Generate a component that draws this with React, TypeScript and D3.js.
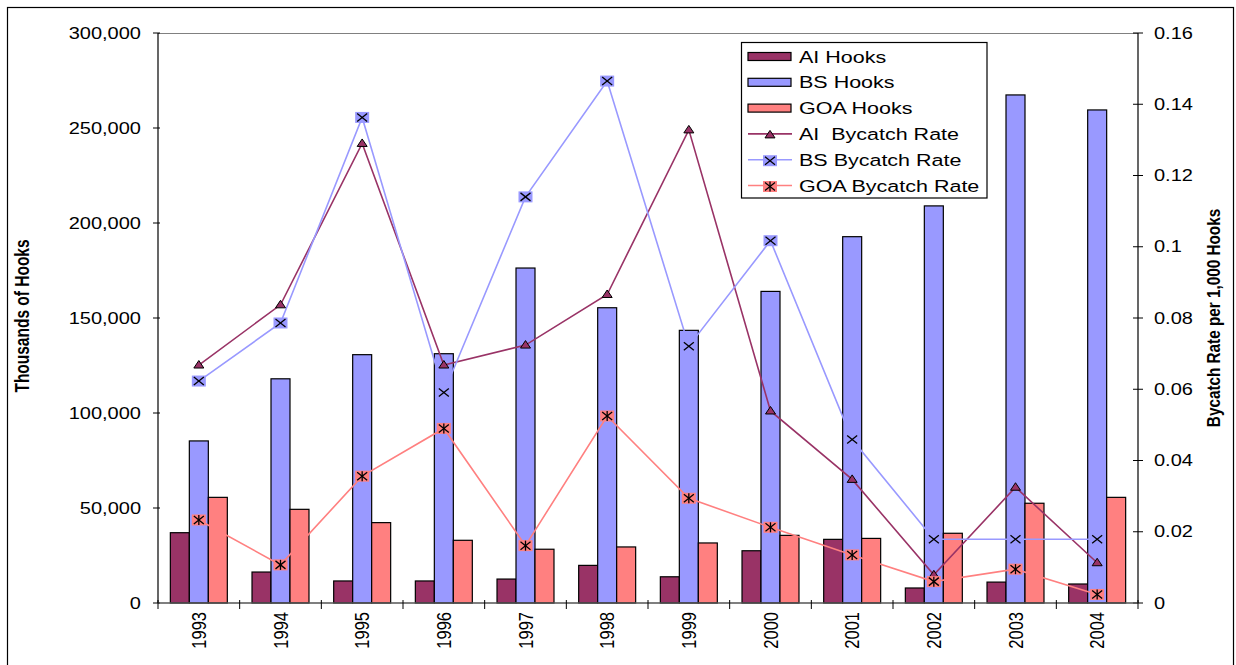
import React from 'react';
import * as d3 from 'd3';

const years = ['1993', '1994', '1995', '1996', '1997', '1998', '1999', '2000', '2001', '2002', '2003', '2004'];
const aiHooks = [37000, 16300, 11600, 11600, 12600, 19800, 13800, 27500, 33500, 7900, 11000, 10000];
const bsHooks = [85300, 118000, 130700, 131200, 176300, 155400, 143500, 164000, 192800, 209000, 267400, 259500];
const goaHooks = [55600, 49300, 42300, 33000, 28300, 29500, 31600, 35600, 34000, 36700, 52500, 55600];
const aiRate = [0.0668, 0.0837, 0.129, 0.0668, 0.0724, 0.0866, 0.1328, 0.0539, 0.0347, 0.0079, 0.0325, 0.0113];
const bsRate = [0.0623, 0.0786, 0.1363, 0.0591, 0.114, 0.1465, 0.0721, 0.1017, 0.0459, 0.0179, 0.0179, 0.0179];
const goaRate = [0.0233, 0.0107, 0.0356, 0.049, 0.0161, 0.0525, 0.0294, 0.02125, 0.0135, 0.006, 0.0095, 0.0024];
const leftTicks = [0, 50000, 100000, 150000, 200000, 250000, 300000];
const rightTicks = [0, 0.02, 0.04, 0.06, 0.08, 0.1, 0.12, 0.14, 0.16];

const AI_C = '#993366';
const BS_C = '#9999FF';
const GOA_C = '#FF8080';
const FONT = '"Liberation Sans", Arial, sans-serif';
const SX = 1.25;

const W = 1236, H = 665;
const L = 158, R = 1138, T = 33, B = 603;

type MarkerKind = 'tri' | 'x' | 'star';

function Marker({ kind, x, y }: { kind: MarkerKind; x: number; y: number }) {
  if (kind === 'tri') {
    return <path d={`M${x},${y - 4.5}L${x + 5},${y + 3}L${x - 5},${y + 3}Z`} fill={AI_C} stroke="#000" strokeWidth={1} />;
  }
  const bg = kind === 'x' ? BS_C : GOA_C;
  return (
    <g>
      <rect x={x - 7} y={y - 5.5} width={14} height={11} fill={bg} />
      <line x1={x - 5} y1={y - 4} x2={x + 5} y2={y + 4} stroke="#000" strokeWidth={1.3} />
      <line x1={x - 5} y1={y + 4} x2={x + 5} y2={y - 4} stroke="#000" strokeWidth={1.3} />
      {kind === 'star' && <line x1={x} y1={y - 5} x2={x} y2={y + 5} stroke="#000" strokeWidth={1.3} />}
    </g>
  );
}

function SText({ x, y, children, anchor = 'start', size = 16, rotate = 0, weight = 'normal', dy = '0' }: any) {
  return (
    <text
      transform={`translate(${x},${y}) scale(${SX},1)${rotate ? ` rotate(${rotate})` : ''}`}
      textAnchor={anchor}
      fontSize={size}
      fontFamily={FONT}
      fontWeight={weight}
      dy={dy}
      fill="#000"
      style={{ whiteSpace: 'pre' }}
    >
      {children}
    </text>
  );
}

export default function App() {
  const x = d3.scaleBand<string>().domain(years).range([L, R]).padding(0);
  const yL = d3.scaleLinear().domain([0, 300000]).range([B, T]);
  const yR = d3.scaleLinear().domain([0, 0.16]).range([B, T]);
  const step = x.bandwidth();
  const bw = step / 4.3;
  const cx = (yr: string) => (x(yr) as number) + step / 2;

  const barSeries = [
    { vals: aiHooks, color: AI_C, k: -1 },
    { vals: bsHooks, color: BS_C, k: 0 },
    { vals: goaHooks, color: GOA_C, k: 1 },
  ];
  const lineSeries: { vals: number[]; color: string; kind: MarkerKind }[] = [
    { vals: aiRate, color: AI_C, kind: 'tri' },
    { vals: bsRate, color: BS_C, kind: 'x' },
    { vals: goaRate, color: GOA_C, kind: 'star' },
  ];
  const line = d3.line<number>().x((_, i) => cx(years[i])).y((d) => yR(d));

  const fmtL = d3.format(',');
  const fmtR = (v: number) => String(+v.toFixed(2));

  const legendItems = [
    { label: 'AI Hooks', color: AI_C, type: 'bar' },
    { label: 'BS Hooks', color: BS_C, type: 'bar' },
    { label: 'GOA Hooks', color: GOA_C, type: 'bar' },
    { label: 'AI  Bycatch Rate', color: AI_C, type: 'tri' },
    { label: 'BS Bycatch Rate', color: BS_C, type: 'x' },
    { label: 'GOA Bycatch Rate', color: GOA_C, type: 'star' },
  ];

  return (
    <svg width={W} height={H} style={{ position: 'absolute', left: 0, top: 0, background: '#fff' }}>
      <rect x={7.5} y={7.5} width={1226} height={720} fill="#fff" stroke="#000" strokeWidth={1.2} />
      <line x1={L} y1={T + 0.5} x2={R} y2={T + 0.5} stroke="#808080" strokeWidth={1} />

      {/* bars */}
      {barSeries.map((s, si) => (
        <g key={si}>
          {s.vals.map((v, i) => {
            const c = cx(years[i]) + s.k * bw - bw / 2;
            return (
              <rect key={i} x={c} y={yL(v)} width={bw} height={B - yL(v)} fill={s.color} stroke="#000" strokeWidth={1.2} />
            );
          })}
        </g>
      ))}

      {/* lines */}
      {lineSeries.map((s, si) => (
        <path key={si} d={line(s.vals) as string} fill="none" stroke={s.color} strokeWidth={1.6} />
      ))}
      {lineSeries.map((s, si) => (
        <g key={si}>
          {s.vals.map((v, i) => (
            <Marker key={i} kind={s.kind} x={cx(years[i])} y={yR(v)} />
          ))}
        </g>
      ))}

      {/* left axis */}
      <line x1={L} y1={T} x2={L} y2={B} stroke="#000" strokeWidth={1.2} />
      {leftTicks.map((t) => (
        <g key={t}>
          <line x1={L - 5} y1={yL(t)} x2={L + 2} y2={yL(t)} stroke="#000" strokeWidth={1} />
          <SText x={141} y={yL(t)} anchor="end" size={16} dy="0.35em">{fmtL(t)}</SText>
        </g>
      ))}

      {/* right axis */}
      <line x1={R} y1={T} x2={R} y2={B} stroke="#000" strokeWidth={1.2} />
      {rightTicks.map((t) => (
        <g key={t}>
          <line x1={R - 5} y1={yR(t)} x2={R + 5} y2={yR(t)} stroke="#000" strokeWidth={1} />
          <SText x={1154} y={yR(t)} anchor="start" size={16} dy="0.35em">{fmtR(t)}</SText>
        </g>
      ))}

      {/* x axis */}
      <line x1={L} y1={B} x2={R} y2={B} stroke="#555" strokeWidth={1.6} />
      {d3.range(years.length + 1).map((i) => (
        <line key={i} x1={L + i * step} y1={B - 3} x2={L + i * step} y2={B + 6} stroke="#000" strokeWidth={1} />
      ))}
      {years.map((yr) => (
        <SText key={yr} x={cx(yr)} y={612} anchor="end" size={16.5} rotate={-90} dy="0.35em">{yr}</SText>
      ))}

      {/* axis titles */}
      <SText x={22} y={316} anchor="middle" size={15.5} rotate={-90} weight="bold" dy="0.35em">Thousands of Hooks</SText>
      <SText x={1213} y={318} anchor="middle" size={15.3} rotate={-90} weight="bold" dy="0.35em">Bycatch Rate per 1,000 Hooks</SText>

      {/* legend */}
      <rect x={741.5} y={42.5} width={245.5} height={155.5} fill="#fff" stroke="#000" strokeWidth={1.2} />
      {legendItems.map((it, i) => {
        const cy = 56.5 + i * 25.8;
        return (
          <g key={i}>
            {it.type === 'bar' ? (
              <rect x={748} y={cy - 4} width={43} height={8} fill={it.color} stroke="#000" strokeWidth={1.2} />
            ) : (
              <g>
                <line x1={748} y1={cy} x2={792} y2={cy} stroke={it.color} strokeWidth={1.6} />
                <Marker kind={it.type as MarkerKind} x={770} y={cy + 1} />
              </g>
            )}
            <SText x={799} y={cy} anchor="start" size={17.2} dy="0.36em">{it.label}</SText>
          </g>
        );
      })}
    </svg>
  );
}
